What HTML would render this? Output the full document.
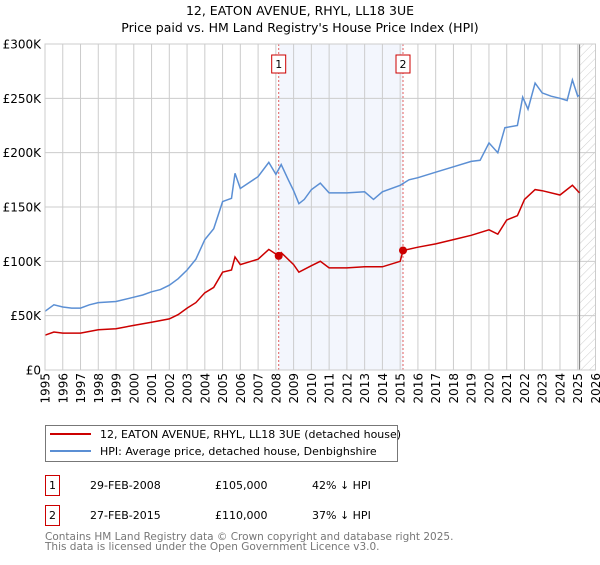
<!DOCTYPE html>
<html><head><meta charset="utf-8"><style>
body{margin:0;background:#fff;font-family:"Liberation Sans","DejaVu Sans",sans-serif}
#wrap{position:relative;width:600px;height:560px}
</style></head><body><div id="wrap">
<svg id="svg" width="600" height="560" xmlns="http://www.w3.org/2000/svg" style="font-family:'DejaVu Sans','Liberation Sans',sans-serif">
<defs><pattern id="hatch" width="6" height="6" patternUnits="userSpaceOnUse" patternTransform="rotate(45)"><line x1="0" y1="0" x2="0" y2="6" stroke="#ccc" stroke-width="1"/></pattern></defs>
<text x="300" y="15" text-anchor="middle" font-size="12.5">12, EATON AVENUE, RHYL, LL18 3UE</text>
<text x="300" y="32" text-anchor="middle" font-size="12.5">Price paid vs. HM Land Registry's House Price Index (HPI)</text>
<g id="plot"></g>
<rect x="45.5" y="425.5" width="352" height="36" fill="#fff" stroke="#777"/>
<line x1="50" y1="434" x2="91" y2="434" stroke="#cc0000" stroke-width="2"/>
<text x="100" y="438" font-size="11">12, EATON AVENUE, RHYL, LL18 3UE (detached house)</text>
<line x1="50" y1="451" x2="91" y2="451" stroke="#5b8fd4" stroke-width="2"/>
<text x="100" y="455" font-size="11">HPI: Average price, detached house, Denbighshire</text>
<rect x="45.5" y="475.5" width="14" height="20" fill="#fff" stroke="#cc0000"/>
<text x="52.5" y="489" text-anchor="middle" font-size="11">1</text>
<text x="90" y="489" font-size="11">29-FEB-2008</text>
<text x="215" y="489" font-size="11">£105,000</text>
<text x="312" y="489" font-size="11">42% ↓ HPI</text>
<rect x="45.5" y="505.5" width="14" height="20" fill="#fff" stroke="#cc0000"/>
<text x="52.5" y="519" text-anchor="middle" font-size="11">2</text>
<text x="90" y="519" font-size="11">27-FEB-2015</text>
<text x="215" y="519" font-size="11">£110,000</text>
<text x="312" y="519" font-size="11">37% ↓ HPI</text>
<text x="45" y="540" font-size="10.5" fill="#777">Contains HM Land Registry data © Crown copyright and database right 2025.</text>
<text x="45" y="550" font-size="10.5" fill="#777">This data is licensed under the Open Government Licence v3.0.</text>
</svg></div>
<script>
const hpiDates=[1995,1995.5,1996,1996.5,1997,1997.5,1998,1999,2000,2000.5,2001,2001.5,2002,2002.5,2003,2003.5,2004,2004.5,2005,2005.5,2005.7,2006,2007,2007.6,2008,2008.3,2008.7,2009,2009.3,2009.6,2010,2010.5,2011,2012,2013,2013.5,2014,2015,2015.5,2016,2017,2018,2019,2019.5,2020,2020.5,2020.9,2021.6,2021.9,2022.2,2022.6,2023,2023.5,2024,2024.4,2024.7,2025,2025.1];
const hpiValues=[54,60,58,57,57,60,62,63,67,69,72,74,78,84,92,102,120,130,155,158,181,167,178,191,180,189,175,165,153,157,166,172,163,163,164,157,164,170,175,177,182,187,192,193,209,200,223,225,251,240,264,255,252,250,248,267,252,253];
const redDates=[1995,1995.5,1996,1997,1998,1999,2000,2001,2002,2002.5,2003,2003.5,2004,2004.5,2005,2005.5,2005.7,2006,2007,2007.6,2008.16,2008.3,2009,2009.3,2010,2010.5,2011,2012,2013,2014,2015,2015.16,2016,2017,2018,2019,2020,2020.5,2021,2021.6,2022,2022.6,2023,2024,2024.7,2025.1];
const redValues=[32,35,34,34,37,38,41,44,47,51,57,62,71,76,90,92,104,97,102,111,105,108,97,90,96,100,94,94,95,95,100,110,113,116,120,124,129,125,138,142,157,166,165,161,170,163];
const saleDates=[2008.16,2015.16];
const saleValues=[105000,110000];
const yTicks=[0,50,100,150,200,250,300];
const yTickLabels=["£0","£50K","£100K","£150K","£200K","£250K","£300K"];
const xYears=[1995,1996,1997,1998,1999,2000,2001,2002,2003,2004,2005,2006,2007,2008,2009,2010,2011,2012,2013,2014,2015,2016,2017,2018,2019,2020,2021,2022,2023,2024,2025,2026];
const X0=45,X1=595.5,Y0=370,Y1=44;
const xs=y=>X0+(y-1995)/(2026-1995)*(X1-X0);
const ys=v=>Y0-(v/300)*(Y0-Y1);
const NS="http://www.w3.org/2000/svg";
const g=document.getElementById('plot');
function mk(t,a){const e=document.createElementNS(NS,t);for(const k in a)e.setAttribute(k,a[k]);g.appendChild(e);return e;}
let e;
e=mk('rect',{x:xs(2008.16),y:Y1,width:xs(2015.16)-xs(2008.16),height:Y0-Y1,fill:'#eef2fc',opacity:0.7});


e=mk('rect',{x:xs(2025.1),y:Y1,width:X1-xs(2025.1),height:Y0-Y1,fill:'url(#hatch)'});


xYears.forEach(yr=>{
 e=mk('line',{x1:xs(yr),x2:xs(yr),y1:Y1,y2:Y0,stroke:'#ccc','stroke-width':1});
 
 
 e=mk('text',{x:0,y:0,'font-size':12,'text-anchor':'end',transform:`translate(${xs(yr)+4.5},373) rotate(-90)`});
 e.textContent=yr;
 
 
});
yTicks.forEach((v,i)=>{
 e=mk('line',{x1:X0,x2:X1,y1:ys(v),y2:ys(v),stroke:'#ccc','stroke-width':1});
 
 
 e=mk('text',{x:41,y:ys(v)+4.5,'font-size':12,'text-anchor':'end'});
 e.textContent=yTickLabels[i];
 
 
});
e=mk('line',{x1:xs(2025.1),x2:xs(2025.1),y1:Y1,y2:Y0,stroke:'#888','stroke-width':1.2});


saleDates.forEach((d,i)=>{
 e=mk('line',{x1:xs(d),x2:xs(d),y1:Y1,y2:Y0,stroke:'#e06060','stroke-width':1,'stroke-dasharray':'2,2'});
 
 
 e=mk('rect',{x:xs(d)-7,y:55,width:14,height:18,fill:'#fff',stroke:'#cc0000'});
 
 
 e=mk('text',{x:xs(d),y:68,'font-size':11,'text-anchor':'middle'});
 e.textContent=String(i+1);
 
 
});
e=mk('path',{d:hpiDates.map((d,i)=>(i?'L':'M')+xs(d).toFixed(1)+','+ys(hpiValues[i]).toFixed(1)).join(''),fill:'none',stroke:'#5b8fd4','stroke-width':1.5});


e=mk('path',{d:redDates.map((d,i)=>(i?'L':'M')+xs(d).toFixed(1)+','+ys(redValues[i]).toFixed(1)).join(''),fill:'none',stroke:'#cc0000','stroke-width':1.5});


saleDates.forEach((d,i)=>{
 e=mk('circle',{cx:xs(d),cy:ys(saleValues[i]/1000),r:4,fill:'#cc0000'});
 
 
});
e=mk('rect',{x:X0,y:Y1,width:X1-X0,height:Y0-Y1,fill:'none',stroke:'#ccc'});


</script></body></html>
